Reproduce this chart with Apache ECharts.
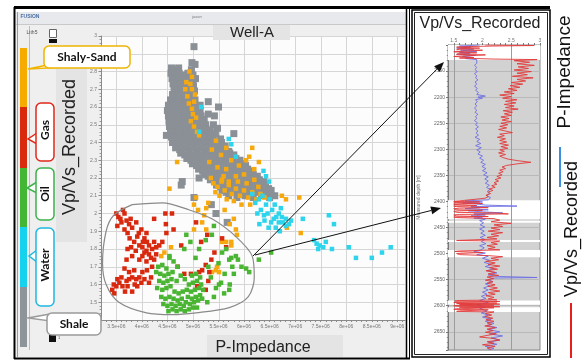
<!DOCTYPE html>
<html>
<head>
<meta charset="utf-8">
<script src="https://cdn.jsdelivr.net/npm/echarts@6.0.0/dist/echarts.min.js"></script>
<style>
  html, body { margin: 0; padding: 0; background: #ffffff; }
  #chart { width: 588px; height: 362px; }
</style>
</head>
<body>
<div id="chart"></div>
<script>
// ---------------- crossplot data: [P-Impedance (x 1e6), Vp/Vs] ----------------
const xTickLabels = [3.5, 4, 4.5, 5, 5.5, 6, 6.5, 7, 7.5, 8, 8.5, 9];
const logTickLabels = [1.5, 2, 2.5, 3];
const logGridValues = [1.5, 2.5];

const shalePts = [
  [5.02,2.94],[4.98,2.85],[5.04,2.84],
  [4.58,2.82],[4.66,2.81],[4.72,2.82],[4.97,2.81],
  [4.57,2.79],[4.65,2.78],[4.73,2.79],[4.81,2.78],[4.90,2.79],[5.00,2.78],
  [4.59,2.76],[4.67,2.75],[4.75,2.76],[4.83,2.75],[4.91,2.76],[4.99,2.75],[5.05,2.76],
  [4.61,2.73],[4.69,2.72],[4.77,2.73],[4.85,2.72],[4.93,2.73],[5.01,2.72],
  [4.63,2.70],[4.71,2.69],[4.79,2.70],[4.87,2.69],[4.95,2.70],[5.03,2.69],
  [4.60,2.67],[4.68,2.66],[4.76,2.67],[4.84,2.66],[4.92,2.67],[5.00,2.66],
  [4.56,2.64],[4.64,2.63],[4.72,2.64],[4.80,2.63],[4.88,2.64],[4.96,2.63],[5.04,2.64],[5.30,2.63],
  [4.52,2.61],[4.60,2.60],[4.68,2.61],[4.76,2.60],[4.84,2.61],[4.92,2.60],[5.00,2.61],[5.08,2.60],[5.14,2.61],[5.50,2.60],
  [4.50,2.58],[4.58,2.57],[4.66,2.58],[4.74,2.57],[4.82,2.58],[4.90,2.57],[4.98,2.58],[5.06,2.57],[5.14,2.58],[5.30,2.56],[5.42,2.55],
  [4.52,2.55],[4.60,2.54],[4.68,2.55],[4.76,2.54],[4.84,2.55],[4.92,2.54],[5.00,2.55],[5.08,2.54],[5.16,2.55],[5.22,2.53],
  [4.53,2.52],[4.61,2.51],[4.69,2.52],[4.77,2.51],[4.85,2.52],[4.93,2.51],[5.01,2.52],[5.09,2.51],[5.17,2.52],[5.25,2.50],[5.40,2.50],[5.48,2.48],
  [4.54,2.49],[4.62,2.48],[4.70,2.49],[4.78,2.48],[4.86,2.49],[4.94,2.48],[5.02,2.49],[5.10,2.48],[5.18,2.49],[5.26,2.47],[5.34,2.47],
  [4.48,2.44],[4.56,2.46],[4.64,2.45],[4.72,2.46],[4.80,2.45],[4.88,2.46],[4.96,2.45],[5.04,2.46],[5.12,2.45],[5.20,2.46],[5.28,2.44],[5.36,2.44],[5.44,2.45],[5.80,2.45],
  [4.58,2.43],[4.66,2.42],[4.74,2.43],[4.82,2.42],[4.90,2.43],[4.98,2.42],[5.06,2.43],[5.14,2.42],[5.22,2.43],[5.30,2.41],[5.38,2.42],[5.46,2.41],[5.54,2.42],
  [4.60,2.40],[4.68,2.39],[4.76,2.40],[4.84,2.39],[4.92,2.40],[5.00,2.39],[5.08,2.40],[5.16,2.39],[5.24,2.40],[5.32,2.39],[5.40,2.40],[5.48,2.39],[5.56,2.40],[5.63,2.38],
  [4.66,2.37],[4.74,2.36],[4.82,2.37],[4.90,2.36],[4.98,2.37],[5.06,2.36],[5.14,2.37],[5.22,2.36],[5.30,2.37],[5.38,2.36],[5.46,2.37],[5.54,2.36],[5.62,2.37],[5.70,2.35],
  [4.76,2.34],[4.84,2.33],[4.92,2.34],[5.00,2.33],[5.08,2.34],[5.16,2.33],[5.24,2.34],[5.32,2.33],[5.40,2.34],[5.48,2.33],[5.56,2.34],[5.64,2.33],[5.72,2.34],[5.80,2.33],
  [4.88,2.31],[4.96,2.30],[5.04,2.31],[5.12,2.30],[5.20,2.31],[5.28,2.30],[5.36,2.31],[5.44,2.30],[5.52,2.31],[5.60,2.30],[5.68,2.31],[5.76,2.30],[5.84,2.31],[5.92,2.30],
  [4.99,2.28],[5.07,2.27],[5.15,2.28],[5.23,2.27],[5.31,2.28],[5.39,2.27],[5.47,2.28],[5.55,2.27],[5.63,2.28],[5.71,2.27],[5.79,2.28],[5.87,2.27],[5.95,2.28],[6.03,2.27],
  [5.11,2.25],[5.19,2.24],[5.27,2.25],[5.35,2.24],[5.43,2.25],[5.51,2.24],[5.59,2.25],[5.67,2.24],[5.75,2.25],[5.83,2.24],[5.91,2.25],[5.99,2.24],[6.07,2.25],[6.15,2.24],
  [5.22,2.22],[5.30,2.21],[5.38,2.22],[5.46,2.21],[5.54,2.22],[5.62,2.21],[5.70,2.22],[5.78,2.21],[5.86,2.22],[5.94,2.21],[6.02,2.22],[6.10,2.21],[6.18,2.22],[6.26,2.21],
  [5.34,2.19],[5.42,2.18],[5.50,2.19],[5.58,2.18],[5.66,2.19],[5.74,2.18],[5.82,2.19],[5.90,2.18],[5.98,2.19],[6.06,2.18],[6.14,2.19],[6.22,2.18],[6.30,2.19],[6.38,2.18],
  [5.46,2.16],[5.54,2.15],[5.62,2.16],[5.70,2.15],[5.78,2.16],[5.86,2.15],[5.94,2.16],[6.02,2.15],[6.10,2.16],[6.18,2.15],[6.26,2.16],[6.34,2.15],[6.42,2.16],[6.48,2.14],
  [5.57,2.13],[5.65,2.12],[5.73,2.13],[5.81,2.12],[5.89,2.13],[5.97,2.12],[6.05,2.13],[6.13,2.12],[6.21,2.13],[6.29,2.12],[6.37,2.13],[6.45,2.12],[6.53,2.13],
  [5.70,2.10],[5.86,2.09],[6.02,2.10],[6.18,2.09],[6.34,2.10],[6.50,2.09],[6.60,2.10],
  [4.79,2.18],[5.12,2.20],[4.77,2.16],[5.02,2.09],[5.36,2.05],[5.45,2.00],[5.67,1.95]
];

const shalySandPts = [
  [4.93,2.80],[4.98,2.77],[4.87,2.74],[4.98,2.70],[4.89,2.66],[5.02,2.63],[4.98,2.59],[5.06,2.54],
  [5.02,2.49],[5.08,2.46],[4.95,2.73],[4.92,2.62],[5.00,2.56],[4.85,2.70],[5.04,2.67],[4.96,2.52],[5.12,2.44],
  [4.69,2.29],
  [5.37,2.36],[5.65,2.37],[6.16,2.37],[6.10,2.32],[6.04,2.30],[6.29,2.29],[5.65,2.25],[5.84,2.21],[5.57,2.19],
  [5.32,2.29],[5.45,2.41],[5.55,2.33],[5.90,2.27],[6.20,2.25],[5.75,2.30],[5.48,2.26],[6.00,2.22],[5.70,2.18],
  [5.40,2.17],[5.48,2.15],[5.56,2.18],[5.62,2.13],[5.70,2.16],[5.76,2.11],[5.84,2.14],[5.92,2.10],[6.00,2.13],
  [6.08,2.09],[6.16,2.12],[6.24,2.08],[6.32,2.11],[6.40,2.09],[5.52,2.10],[5.66,2.08],[5.80,2.07],[5.95,2.05],
  [6.12,2.05],[5.44,2.12],[5.60,2.21],[5.88,2.18],[6.05,2.17],[6.28,2.15],[6.20,2.19],[5.35,2.20],
  [4.54,2.14],[5.06,2.09],[5.02,2.05],[5.26,2.03],[5.22,1.99],[5.18,1.95],[5.02,1.91],[5.26,1.91],[5.84,1.91],
  [5.86,1.88],[5.75,1.82],[5.65,1.84],[6.74,2.10],[6.82,2.08],[7.08,2.09],[7.11,1.89],[6.84,1.92],[4.38,1.76],
  [5.37,1.67],[5.45,1.68],[5.51,1.67],[4.57,1.81],[4.44,1.78],[5.57,1.84],[5.75,1.84],[5.47,1.70],[5.72,1.94],
  [5.80,1.97],[5.30,2.06],[5.10,2.02],[5.62,2.02]
];

const waterPts = [
  [5.16,2.60],[5.12,2.46],[5.75,2.39],[5.84,2.32],[6.43,2.21],[6.49,2.18],[5.70,2.42],[6.38,2.24],
  [6.16,2.11],[6.29,2.08],[6.43,2.05],[6.55,2.02],[6.68,2.00],[6.74,1.98],[6.82,1.97],[6.88,1.94],[6.68,1.95],
  [6.63,1.98],[6.39,1.99],[6.33,2.02],[6.53,1.95],[6.82,1.93],[6.22,2.06],[6.36,2.10],[6.50,2.08],[6.60,2.05],
  [6.72,2.03],[6.46,2.00],[6.58,1.97],[6.76,1.95],[6.92,1.96],[6.26,2.00],[6.40,1.96],[6.62,1.92],[6.70,1.90],
  [6.30,1.94],[6.48,1.92],
  [7.15,1.97],[7.66,1.99],[7.76,1.94],[7.37,1.85],[7.42,1.83],[7.48,1.82],[7.55,1.81],[7.60,1.84],[7.45,1.80],
  [7.72,1.80],[8.05,1.81],[8.19,1.75],[8.50,1.75],[8.70,1.78],[8.87,1.81]
];

const gasPts = [
  [3.50,2.00],[3.54,1.98],[3.66,2.00],[3.70,1.96],[3.60,1.95],[3.52,1.93],[3.75,1.94],[3.81,1.92],[3.66,1.91],
  [3.72,1.89],[3.89,1.95],[3.99,1.91],[4.09,1.89],[3.91,1.87],[3.85,1.84],[3.79,1.81],[3.72,1.80],[3.95,1.82],
  [4.01,1.81],[4.09,1.79],[4.14,1.77],[4.20,1.80],[4.28,1.81],[4.34,1.82],[4.40,1.84],[4.10,1.84],[4.05,1.86],
  [4.18,1.75],[4.01,1.76],[4.24,1.74],[4.09,1.73],[3.95,1.74],[3.81,1.76],[3.70,1.74],[4.28,1.77],[3.58,1.97],
  [3.63,2.02],[3.78,1.97],[3.94,1.89],[4.02,1.84],[4.14,1.82],[4.24,1.84],[3.88,1.79],[4.05,1.78],[3.76,1.86],
  [4.46,2.00],[4.59,2.00],[4.48,1.89],[4.47,1.94],[4.24,1.97],
  [3.42,1.57],[3.50,1.59],[3.46,1.55],[3.56,1.61],[3.62,1.59],[3.70,1.62],[3.75,1.63],[3.81,1.64],[3.72,1.59],
  [3.89,1.63],[3.95,1.64],[4.01,1.67],[3.91,1.59],[3.99,1.61],[4.05,1.63],[3.85,1.68],[3.66,1.69],[3.75,1.67],
  [4.10,1.68],[4.18,1.64],[4.14,1.61],[3.60,1.64],[3.52,1.63],[3.81,1.56],[3.45,1.60],[3.67,1.56],[3.86,1.60],
  [4.20,1.70],
  [4.77,1.82],[5.06,1.95],[5.28,1.88],[5.36,1.74],[5.18,1.68],[5.57,1.86],[5.65,1.81],[5.08,1.59],[5.25,1.57],
  [4.62,1.91],[4.70,1.70],[5.30,1.62],[4.96,1.66],[5.42,1.78],[5.16,1.84],[5.25,1.71],[5.32,1.67],[5.12,1.67],
  [4.83,1.66]
];

const oilPts = [
  [4.32,1.70],[4.40,1.71],[4.48,1.69],[4.36,1.66],[4.44,1.65],[4.52,1.66],[4.60,1.67],[4.34,1.62],[4.42,1.61],
  [4.50,1.62],[4.58,1.63],[4.40,1.57],[4.48,1.58],[4.38,1.53],[4.46,1.52],[4.54,1.53],[4.42,1.49],[4.50,1.48],
  [4.58,1.49],[4.62,1.52],[4.66,1.48],[4.70,1.51],[4.74,1.49],[4.78,1.52],[4.82,1.48],[4.86,1.50],[4.90,1.53],
  [4.94,1.49],[4.98,1.52],[5.02,1.50],[5.06,1.53],[5.10,1.51],[5.14,1.54],[5.18,1.52],[4.64,1.56],[4.72,1.55],
  [4.80,1.56],[4.88,1.57],[4.96,1.56],[5.04,1.57],[5.12,1.58],[4.92,1.60],[5.00,1.61],[5.08,1.62],[5.16,1.60],
  [4.98,1.65],[5.06,1.66],[5.14,1.64],[5.20,1.57],[4.56,1.59],[4.68,1.62],[4.76,1.65],[4.84,1.63],[4.70,1.70],
  [4.62,1.73],[4.54,1.75],[4.28,1.67],[4.30,1.58],[4.52,1.45],[4.60,1.46],[4.68,1.45],[4.76,1.46],[4.84,1.45],
  [4.92,1.46],[5.00,1.47],[5.08,1.47],
  [4.87,1.88],[5.37,1.88],[5.41,1.93],[5.12,1.80],[5.57,1.78],[5.71,1.74],[5.77,1.70],[6.04,1.69],[6.29,1.74],
  [6.53,1.78],[5.41,1.53],[5.61,1.55],[5.55,1.61],[4.54,1.76],[5.30,1.70],[5.50,1.72],[5.65,1.80],[5.88,1.74],
  [5.95,1.70],[5.35,1.64],[5.45,1.58],[5.28,1.50],[5.62,1.66],[4.95,1.84],[5.25,1.85],[5.80,1.66],[5.72,1.60],
  [5.05,1.75],[4.83,1.80],[5.75,1.75],[5.84,1.76],[6.10,1.67],[5.51,1.60],[5.71,1.57]
];

// hand-drawn selection polygon around the gas/oil cloud
const clusterOutline = [
  [3.81,2.05],[4.40,2.06],[4.93,2.02],[5.37,1.97],[5.84,1.87],[6.16,1.76],[6.20,1.64],[6.08,1.53],
  [5.71,1.47],[5.06,1.44],[4.59,1.43],[4.09,1.44],[3.55,1.50],[3.30,1.60],[3.23,1.72],[3.30,1.90],
  [3.45,1.99],[3.81,2.05]
];

// ---------------- well log: [measured depth (m), value] ----------------
const vpvsLog = [
  [2100,2.05],[2101,2.9],[2102,2.2],[2103,1.75],[2104,1.55],[2106,1.95],[2107,1.6],[2109,1.55],[2110,2.0],
  [2112,1.7],[2113,1.5],[2115,1.9],[2116,1.6],[2118,1.55],[2119,2.05],[2121,1.65],[2122,1.5],[2124,1.85],
  [2125,1.6],[2127,2.2],[2128,2.95],[2130,2.55],
  [2133,2.82],[2136,2.6],[2139,2.9],[2142,2.62],[2145,2.8],[2148,2.55],[2151,2.85],[2154,2.6],[2157,2.78],
  [2160,2.52],[2163,2.88],[2166,2.6],[2169,2.75],[2172,2.5],[2175,2.7],[2178,2.48],[2181,2.65],[2184,2.45],
  [2187,2.6],[2190,2.38],[2193,2.55],[2196,2.3],[2199,2.5],[2202,2.35],[2205,2.6],[2208,2.4],[2211,2.58],
  [2214,2.38],[2217,2.55],[2220,2.4],[2223,2.62],[2226,2.36],[2229,2.52],[2232,2.38],[2235,2.5],[2238,2.32],
  [2241,2.46],[2244,2.34],[2247,2.5],[2250,2.32],[2253,2.44],[2256,2.3],[2259,2.42],[2262,2.28],[2265,2.4],
  [2268,2.52],[2271,2.3],[2274,2.38],[2277,2.26],[2280,2.4],[2283,2.3],[2286,2.42],[2289,2.3],[2292,2.45],
  [2295,2.32],[2298,2.44],[2301,2.3],[2304,2.38],[2307,2.28],[2310,2.4],[2313,2.3],[2316,2.36],[2319,2.45],
  [2322,2.62],[2325,2.84],[2328,2.6],[2331,2.42],[2334,2.34],[2337,2.4],[2340,2.3],[2343,2.36],[2346,2.28],
  [2349,2.34],[2352,2.25],[2355,2.32],[2358,2.22],[2361,2.28],[2364,2.2],[2367,2.25],[2370,2.16],[2373,2.22],
  [2376,2.12],[2379,2.18],[2382,2.1],[2385,2.14],[2388,2.06],[2391,2.1],[2394,2.04],[2397,2.02],
  [2399,1.6],[2400,1.5],[2401,1.95],[2402,1.55],[2403,1.5],[2404,2.0],[2405,1.6],[2406,1.5],[2408,1.9],
  [2409,1.5],[2410,1.55],[2412,2.1],[2413,1.6],[2414,1.5],[2416,1.55],[2417,2.0],[2418,1.6],[2419,1.5],
  [2421,1.55],[2422,2.2],[2424,2.45],[2425,1.6],[2426,1.5],[2428,1.55],[2429,2.1],[2430,1.5],[2431,1.55],
  [2433,2.2],
  [2436,2.3],[2439,2.15],[2442,2.5],[2445,2.2],[2448,2.35],[2451,2.15],[2454,2.3],[2457,2.1],[2460,2.35],
  [2463,2.15],[2466,2.28],[2469,2.08],[2472,2.25],[2475,1.55],[2476,2.3],[2479,2.15],[2482,2.26],[2485,2.08],
  [2488,2.22],[2491,2.1],[2493,2.3],[2495,1.6],[2496,1.52],[2498,2.0],[2500,1.55],[2502,1.6],[2504,2.1],
  [2506,2.35],
  [2509,2.15],[2512,2.28],[2515,2.06],[2518,2.22],[2521,2.1],[2524,2.3],[2527,2.12],[2530,2.26],[2533,2.06],
  [2536,2.22],[2539,2.1],[2542,2.28],[2545,2.08],[2548,2.2],[2551,2.05],[2554,2.18],[2557,2.08],[2560,2.22],
  [2563,2.1],[2566,2.26],[2569,2.12],[2572,2.3],[2575,2.1],[2578,2.22],[2581,2.06],[2584,2.2],[2587,2.1],
  [2589,2.25],
  [2590,1.6],[2591,1.52],[2592,2.3],[2593,1.55],[2594,1.5],[2595,2.25],[2596,1.55],[2597,2.3],[2598,1.6],
  [2599,2.2],[2600,1.5],[2601,1.55],[2602,2.3],[2603,1.6],[2604,2.2],[2606,1.55],[2607,1.5],[2608,2.1],
  [2610,1.6],[2611,1.55],[2612,2.2],
  [2615,2.05],[2618,2.16],[2621,2.04],[2624,2.18],[2627,2.06],[2630,2.2],[2633,2.08],[2636,2.16],[2639,2.04],
  [2642,2.22],[2645,2.08],[2648,2.18],[2651,2.05],[2654,2.24],[2657,2.08],[2660,1.95],[2663,2.2],[2666,2.3],
  [2669,2.08],[2672,2.2],[2675,2.0],[2678,2.22],[2681,2.08],[2684,2.15]
];

const pImpLog = [
  [2100,1.95],[2102,1.6],[2104,1.8],[2106,1.55],[2108,1.85],[2110,1.62],[2112,1.9],[2114,1.6],[2116,1.78],
  [2118,1.55],[2120,1.88],[2122,1.65],[2124,1.8],[2126,1.7],[2128,1.9],[2131,1.88],[2135,1.9],[2139,1.86],
  [2143,1.9],[2147,1.87],[2151,1.91],[2155,1.86],[2159,1.9],[2163,1.88],[2167,1.92],[2171,1.87],[2175,1.9],
  [2179,1.86],[2183,1.91],[2187,1.88],[2191,1.93],[2195,1.9],[2198,2.05],[2200,1.92],[2202,2.0],[2205,1.88],
  [2209,1.91],[2213,1.87],[2217,1.9],[2221,1.86],[2225,1.9],[2229,1.87],[2233,1.92],[2237,1.88],[2241,1.9],
  [2245,1.86],[2249,1.91],[2253,1.88],[2257,1.93],[2261,1.88],[2265,1.92],[2269,1.89],[2273,1.93],[2277,1.87],
  [2281,1.95],[2285,1.9],[2289,1.97],[2293,1.88],[2297,1.98],[2301,1.9],[2305,1.96],[2309,1.92],[2313,2.0],
  [2317,1.95],[2321,2.02],[2325,1.97],[2329,2.05],[2333,1.99],[2337,2.06],[2341,2.0],[2345,2.08],[2349,2.02],
  [2353,2.1],[2357,2.04],[2361,2.1],[2365,2.05],[2369,2.12],[2373,2.07],[2377,2.13],[2381,2.08],[2385,2.12],
  [2389,2.08],[2393,2.14],[2397,2.1],
  [2399,1.7],[2401,2.0],[2403,1.65],[2405,1.9],[2407,2.05],[2409,2.6],[2410,1.8],[2412,1.95],[2414,1.7],
  [2416,2.1],[2418,1.75],[2420,2.0],[2422,2.35],[2424,1.85],[2426,2.05],[2428,1.8],[2430,2.0],[2432,1.85],
  [2434,2.05],[2437,1.95],[2441,2.02],[2445,1.96],[2449,2.04],[2453,1.95],[2457,2.03],[2461,1.97],[2465,2.05],
  [2469,1.96],[2473,2.04],[2477,1.98],[2481,2.06],[2485,1.95],[2489,2.03],[2493,1.97],[2496,1.85],[2499,2.05],
  [2502,1.9],[2505,2.1],[2509,2.0],[2513,2.12],[2517,2.03],[2521,2.15],[2525,2.05],[2529,2.2],[2533,2.08],
  [2537,2.25],[2541,2.1],[2544,2.3],[2546,2.95],[2547,2.2],[2550,2.1],[2554,2.18],[2558,2.05],[2562,2.12],
  [2566,2.02],[2570,2.1],[2574,2.0],[2578,2.08],[2582,1.98],[2586,2.06],[2590,1.95],[2594,2.1],[2598,1.9],
  [2602,2.05],[2606,1.95],[2610,2.08],[2614,1.98],[2618,2.1],[2622,2.0],[2626,2.15],[2630,2.05],[2634,2.2],
  [2638,2.08],[2642,2.25],[2646,2.1],[2650,2.3],[2654,2.12],[2658,2.35],[2662,2.15],[2666,2.3],[2670,2.1],
  [2674,2.25],[2678,2.05],[2682,2.2],[2685,2.1]
];

// depth intervals flagged as pay (drawn white on the grey track)
const whiteBands = [
  [2100,2129],[2398,2434],[2437,2441],[2474,2478],[2493,2507],[2590,2598],[2603,2612]
];

// ---------------- lithology legend bar ----------------
const lithoColors = ['#f5ab00', '#d92b0c', '#43b634', '#16d2ee', '#8d949a'];

// ---------------- helpers ----------------
const FONT = '"Liberation Sans", Arial, sans-serif';
const CALLOUT_FONT = 'Lato, "Open Sans", sans-serif';

function rect(x, y, w, h, style, z, r) {
  return { type: 'rect', silent: true, z: z,
    shape: { x: x, y: y, width: w, height: h, r: r || 0 }, style: style };
}
function line(x1, y1, x2, y2, stroke, lw, z) {
  return { type: 'line', silent: true, z: z,
    shape: { x1: x1, y1: y1, x2: x2, y2: y2 }, style: { stroke: stroke, lineWidth: lw } };
}
function poly(points, style, z) {
  return { type: 'polygon', silent: true, z: z, shape: { points: points }, style: style };
}
function text(x, y, str, font, fill, rotation, z, align) {
  return { type: 'text', silent: true, z: z, x: x, y: y, rotation: rotation || 0,
    style: { text: str, font: font, fill: fill, align: align || 'center', verticalAlign: 'middle' } };
}
function arrow(x1, y1, x2, y2) {
  const dx = x2 - x1, dy = y2 - y1, len = Math.sqrt(dx * dx + dy * dy);
  const ux = dx / len, uy = dy / len, px = -uy, py = ux;
  const bx = x2 - ux * 10, by = y2 - uy * 10;
  return [
    line(x1, y1, bx, by, '#111', 1, 120),
    poly([[x2, y2], [bx + px * 4, by + py * 4], [bx - px * 4, by - py * 4]], { fill: '#111' }, 120)
  ];
}

const Z_BG = -10, Z_FG = 100;
const elements = [];

// window backgrounds
elements.push(rect(16, 12, 391, 345, { fill: '#efefef' }, Z_BG));
elements.push(rect(16, 12, 391, 12, { fill: '#e7e9ec' }, Z_BG));
elements.push(line(16, 24.5, 407, 24.5, '#c9c9c9', 1, Z_BG + 1));
elements.push(rect(56, 52, 31, 190, { fill: '#e4e4e4' }, Z_BG + 1));
elements.push(rect(213, 25, 77, 15, { fill: '#e4e4e4' }, Z_FG - 5));
elements.push(rect(207, 335, 136, 22, { fill: '#e4e4e4' }, Z_FG - 5));

// frames
elements.push(line(14, 7.5, 550, 7.5, '#000', 3, Z_FG));
elements.push(line(14.5, 7, 14.5, 359, '#000', 2, Z_FG));
elements.push(line(14, 358.5, 410, 358.5, '#000', 2, Z_FG));
elements.push(line(406.5, 8, 406.5, 359, '#000', 1.5, Z_FG));
elements.push(line(409.5, 8, 409.5, 359, '#000', 1, Z_FG));
elements.push(rect(412, 10, 138, 347, { fill: 'none', stroke: '#000', lineWidth: 1.5 }, Z_FG));
elements.push(rect(414.5, 12.5, 133, 342, { fill: 'none', stroke: '#222', lineWidth: 1 }, Z_FG));
elements.push(line(17.5, 12, 17.5, 357, '#9a9a9a', 1, Z_BG + 1));
elements.push(line(29.5, 26, 29.5, 350, '#bdbdbd', 1, Z_BG + 1));

// window header text
elements.push(text(30, 17, 'FUSION', 'bold 5px ' + FONT, '#4a6fa5', 0, Z_FG));
elements.push(text(197, 17, 'jason', '4px ' + FONT, '#777', 0, Z_FG));
elements.push(text(32, 33, 'Lith5', '5px ' + FONT, '#555', 0, Z_FG));
elements.push(rect(49.5, 29.5, 7, 8, { fill: '#fff', stroke: '#666', lineWidth: 1 }, Z_FG));
elements.push(rect(49, 39, 8, 4, { fill: '#111' }, Z_FG));
elements.push(rect(49, 335, 7, 7, { fill: '#111' }, Z_FG));
elements.push(text(59, 338, '1', '4px ' + FONT, '#555', 0, Z_FG));

// lithology colour bar
const barTops = [48, 107, 168, 227, 287, 347];
lithoColors.forEach(function (c, i) {
  elements.push(rect(20, barTops[i], 7, barTops[i + 1] - barTops[i], { fill: c }, Z_FG - 1));
});

// callouts
function callout(box, tail, color, label, rot, cx, cy, fontSize) {
  elements.push(poly(tail, { fill: '#fff', stroke: color, lineWidth: 1.5 }, Z_FG + 1));
  elements.push(rect(box[0], box[1], box[2], box[3], { fill: '#ffffff', lineWidth: 1.5, stroke: color }, Z_FG + 2, 5));
  elements.push(text(cx, cy, label, 'bold ' + fontSize + 'px ' + CALLOUT_FONT, '#111', rot, Z_FG + 3));
}
callout([44, 46, 86, 22], [[52, 64], [28, 69], [58, 67.5]], '#f0b400', 'Shaly-Sand', 0, 87, 57.5, 12);
callout([36, 103, 18, 58], [[37, 133], [28, 139], [37, 144]], '#e0281a', 'Gas', Math.PI / 2, 45, 130, 12);
callout([36, 168, 18, 52], [[37, 182], [27, 188], [37, 193]], '#3db24a', 'Oil', Math.PI / 2, 45, 194, 12);
callout([36, 228, 18, 78], [[37, 250], [29, 256], [37, 262]], '#1fb8e0', 'Water', Math.PI / 2, 45, 265, 12);
callout([47, 313, 54, 22], [[50, 314], [28, 318], [50, 321]], '#9b9b9b', 'Shale', 0, 74, 324.5, 12);

// titles
elements.push(text(70, 147, 'Vp/Vs_Recorded', '18px ' + FONT, '#222', Math.PI / 2, Z_FG));
elements.push(text(252, 32.5, 'Well-A', '15px ' + FONT, '#222', 0, Z_FG));
elements.push(text(263, 348, 'P-Impedance', '16px ' + FONT, '#222', 0, Z_FG));
elements.push(text(480, 24, 'Vp/Vs_Recorded', '16px ' + FONT, '#222', 0, Z_FG));

// log legend (vertical)
elements.push(text(565, 72, 'P-Impedance', '19px ' + FONT, '#111', Math.PI / 2, Z_FG));
elements.push(line(560, 147, 560, 187, '#3a8fe0', 2, Z_FG));
elements.push(text(572, 229, 'Vp/Vs_Recorded', '18px ' + FONT, '#111', Math.PI / 2, Z_FG));
elements.push(line(571, 303, 571, 358, '#e8201a', 2, Z_FG));

// arrows from the selected cloud to the pay zones in the log
arrow(253, 256, 444, 62).forEach(function (e) { elements.push(e); });
arrow(255, 255, 441, 208).forEach(function (e) { elements.push(e); });

// ---------------- chart ----------------
const chart = echarts.init(document.getElementById('chart'), null, { renderer: 'canvas' });

function rulerTicks(a, b, step) {
  const out = [];
  for (let v = a; v <= b + 1e-9; v += step) out.push(Math.round(v * 100) / 100);
  return out;
}

function vGridItem(ymin, ymax, color) {
  return function (params, api) {
    const p0 = api.coord([api.value(0), ymin]);
    const p1 = api.coord([api.value(0), ymax]);
    const x = Math.round(p0[0]) + 0.5;
    return { type: 'line', silent: true,
      shape: { x1: x, y1: p0[1], x2: x, y2: p1[1] },
      style: { stroke: color, lineWidth: 1 } };
  };
}

function scatterSeries(name, pts, color, size) {
  return {
    type: 'scatter', name: name, xAxisIndex: 0, yAxisIndex: 0, data: pts,
    symbol: 'rect', symbolSize: size || 4.5, silent: true,
    itemStyle: { color: color, opacity: 1, borderWidth: 0, borderColor: color }
  };
}

chart.setOption({
  animation: false,
  graphic: { elements: elements },
  grid: [
    { left: 101, top: 36, width: 304, height: 284, show: true, backgroundColor: '#fcfcfc', borderWidth: 0 },
    { left: 448, top: 45, width: 92, height: 305, show: true, backgroundColor: '#d2d2d2',
      borderColor: '#8a8a8a', borderWidth: 1 }
  ],
  xAxis: [
    { gridIndex: 0, type: 'value', min: 3.2, max: 9.15,
      axisLine: { show: true, onZero: false, lineStyle: { color: '#8a8a8a' } },
      axisTick: { show: true, customValues: rulerTicks(3.3, 9.1, 0.1), length: 2, lineStyle: { color: '#8a8a8a' } },
      axisLabel: { customValues: xTickLabels, fontSize: 5, color: '#777', margin: 4, fontFamily: FONT,
        formatter: function (v) { return v + 'e+06'; } },
      splitLine: { show: false } },
    { gridIndex: 1, type: 'value', min: 1.4, max: 3.0, position: 'top',
      axisLine: { show: true, onZero: false, lineStyle: { color: '#777' } },
      axisTick: { show: true, customValues: rulerTicks(1.5, 3.0, 0.1), length: 2, lineStyle: { color: '#777' } },
      axisLabel: { customValues: logTickLabels, fontSize: 5, color: '#777', margin: 2, fontFamily: FONT },
      splitLine: { show: false } }
  ],
  yAxis: [
    { gridIndex: 0, type: 'value', min: 1.4, max: 3.0, interval: 0.1,
      axisLine: { show: true, onZero: false, lineStyle: { color: '#8a8a8a' } },
      axisTick: { show: true, length: 2.5, lineStyle: { color: '#8a8a8a' } },
      minorTick: { show: true, splitNumber: 5, length: 1.5, lineStyle: { color: '#9a9a9a' } },
      axisLabel: { fontSize: 5, color: '#777', margin: 4, fontFamily: FONT,
        formatter: function (v) { return Math.abs(v - 1.4) < 1e-6 ? '' : String(+v.toFixed(1)); } },
      splitLine: { show: true, lineStyle: { color: '#d6d6d6', width: 1 } } },
    { gridIndex: 1, type: 'value', inverse: true, min: 2100, max: 2685, interval: 50,
      name: 'Measured depth [m]', nameLocation: 'middle', nameGap: 27,
      nameTextStyle: { fontSize: 5, color: '#777', fontFamily: FONT },
      axisLine: { show: true, onZero: false, lineStyle: { color: '#777' } },
      axisTick: { show: true, length: 2, lineStyle: { color: '#777' } },
      minorTick: { show: true, splitNumber: 5, length: 1.2, lineStyle: { color: '#888' } },
      axisLabel: { fontSize: 5, color: '#666', margin: 3, showMinLabel: false, showMaxLabel: false, fontFamily: FONT,
        formatter: function (v) { return String(Math.round(v)); } },
      splitLine: { show: true, lineStyle: { color: '#b9b9b9', width: 1 } } }
  ],
  series: [
    { type: 'custom', xAxisIndex: 0, yAxisIndex: 0, z: 1, silent: true,
      data: xTickLabels.map(function (v) { return [v]; }),
      encode: { x: 0 }, renderItem: vGridItem(1.4, 3.0, '#d6d6d6') },
    scatterSeries('Shale', shalePts, '#8a9096', 7),
    scatterSeries('Shaly-Sand', shalySandPts, '#f6a90e'),
    scatterSeries('Water', waterPts, '#2dd5ec'),
    scatterSeries('Gas', gasPts, '#d8290f'),
    scatterSeries('Oil', oilPts, '#4ab532'),
    { type: 'line', xAxisIndex: 0, yAxisIndex: 0, data: clusterOutline, smooth: 0.3,
      symbol: 'none', silent: true, z: 3, lineStyle: { color: '#8a8a8a', width: 1.2 } },

    { type: 'custom', xAxisIndex: 1, yAxisIndex: 1, z: 1, silent: true,
      data: whiteBands, encode: { y: [0, 1] },
      renderItem: function (params, api) {
        const a = api.coord([1.4, api.value(0)]);
        const b = api.coord([3.0, api.value(1)]);
        return { type: 'rect', silent: true,
          shape: { x: a[0], y: a[1], width: b[0] - a[0], height: b[1] - a[1] },
          style: { fill: '#ffffff' } };
      } },
    { type: 'custom', xAxisIndex: 1, yAxisIndex: 1, z: 1.5, silent: true,
      data: logGridValues.map(function (v) { return [v]; }),
      encode: { x: 0 }, renderItem: vGridItem(2100, 2685, '#9c9c9c') },
    { type: 'line', name: 'P-Impedance', xAxisIndex: 1, yAxisIndex: 1, symbol: 'none', silent: true, z: 3,
      data: pImpLog.map(function (d) { return [d[1], d[0]]; }),
      lineStyle: { color: '#6e70e2', width: 1, opacity: 0.9 } },
    { type: 'line', name: 'Vp/Vs_Recorded', xAxisIndex: 1, yAxisIndex: 1, symbol: 'none', silent: true, z: 4,
      data: vpvsLog.map(function (d) { return [d[1], d[0]]; }),
      lineStyle: { color: '#e23a3a', width: 1, opacity: 0.9 } }
  ]
});
</script>
</body>
</html>
